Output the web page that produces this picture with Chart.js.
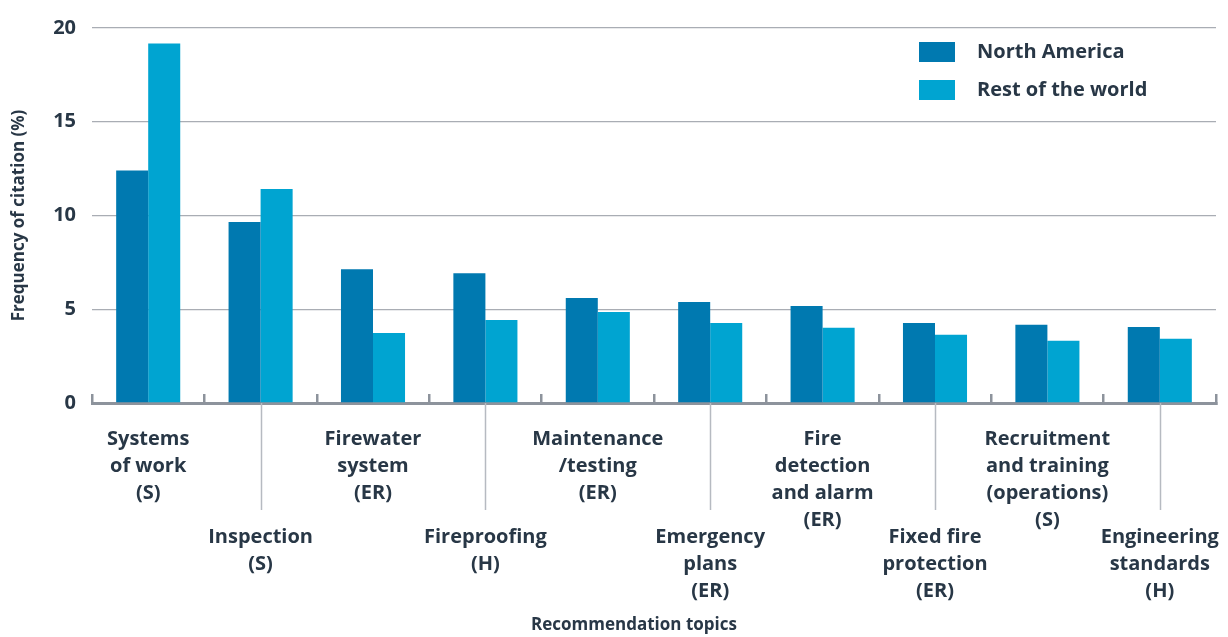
<!DOCTYPE html>
<html>
<head>
<meta charset="utf-8">
<style>
  html, body { margin: 0; padding: 0; background: #ffffff; }
  #wrap { width: 1228px; height: 637px; }
</style>
<script src="https://cdn.jsdelivr.net/npm/chart.js@4/dist/chart.umd.min.js"></script>
</head>
<body>
<div id="wrap"><canvas id="chart" width="1228" height="637"></canvas></div>
<script>
(function () {
  'use strict';

  var categories = [
    ['Systems', 'of work', '(S)'],
    ['Inspection', '(S)'],
    ['Firewater', 'system', '(ER)'],
    ['Fireproofing', '(H)'],
    ['Maintenance', '/testing', '(ER)'],
    ['Emergency', 'plans', '(ER)'],
    ['Fire', 'detection', 'and alarm', '(ER)'],
    ['Fixed fire', 'protection', '(ER)'],
    ['Recruitment', 'and training', '(operations)', '(S)'],
    ['Engineering', 'standards', '(H)']
  ];
  var northAmerica = [12.4, 9.66, 7.13, 6.92, 5.6, 5.39, 5.17, 4.27, 4.17, 4.06];
  var restOfWorld = [19.18, 11.42, 3.74, 4.43, 4.86, 4.27, 4.01, 3.64, 3.32, 3.43];
  var yTicks = [0, 5, 10, 15, 20];

  var TEXT = '#283746';
  var FONT = '"Open Sans", "DejaVu Sans", sans-serif';

  // staggered category labels, connector lines, legend, x title
  var extras = {
    id: 'extras',
    afterDraw: function (chart) {
      var ctx = chart.ctx;
      var x = chart.scales.x;
      var axisY = chart.chartArea.bottom;
      ctx.save();
      ctx.fillStyle = TEXT;
      ctx.textAlign = 'center';
      ctx.textBaseline = 'middle';
      ctx.font = 'bold 20px ' + FONT;
      categories.forEach(function (lines, i) {
        var cx = x.getPixelForValue(i);
        var top = i % 2 === 0 ? 439 : 537;
        if (i % 2 === 1) {
          ctx.strokeStyle = '#b6bac1';
          ctx.lineWidth = 1.5;
          ctx.beginPath();
          ctx.moveTo(Math.round(cx) + 0.5, axisY);
          ctx.lineTo(Math.round(cx) + 0.5, 510);
          ctx.stroke();
        }
        lines.forEach(function (t, j) { ctx.fillText(t, cx, top + j * 27); });
      });

      // legend
      ctx.textAlign = 'left';
      ctx.font = 'bold 20px ' + FONT;
      chart.data.datasets.forEach(function (ds, i) {
        var y = 42 + i * 38;
        ctx.fillStyle = ds.backgroundColor;
        ctx.fillRect(919, y, 36, 20);
        ctx.fillStyle = TEXT;
        ctx.fillText(ds.label, 977, y + 10);
      });

      // x title
      ctx.textAlign = 'center';
      ctx.font = 'bold 17px ' + FONT;
      ctx.fillText('Recommendation topics', 634, 625);
      ctx.restore();
    }
  };

  new Chart(document.getElementById('chart').getContext('2d'), {
    type: 'bar',
    data: {
      labels: categories,
      datasets: [
        { label: 'North America', data: northAmerica, backgroundColor: '#0079b0' },
        { label: 'Rest of the world', data: restOfWorld, backgroundColor: '#00a4d1' }
      ]
    },
    options: {
      responsive: false,
      animation: false,
      layout: { padding: { top: 24, right: 12, bottom: 234, left: 0 } },
      datasets: { bar: { categoryPercentage: 0.57, barPercentage: 1, borderWidth: 0 } },
      plugins: { legend: { display: false }, tooltip: { enabled: false } },
      scales: {
        x: {
          ticks: { display: false },
          grid: { display: true, drawOnChartArea: false, drawTicks: true, tickLength: -9, color: '#8d939c', lineWidth: 2.5 },
          border: { display: true, color: '#8d939c', width: 3 },
          afterFit: function (s) { s.height = 0; }
        },
        y: {
          min: 0,
          max: 20,
          afterBuildTicks: function (s) { s.ticks = yTicks.map(function (v) { return { value: v }; }); },
          ticks: { color: TEXT, padding: 16, font: { family: FONT, size: 20, weight: 'bold' } },
          grid: { color: '#a9adb4', lineWidth: 1.3, drawTicks: false },
          border: { display: false },
          title: {
            display: true,
            text: 'Frequency of citation (%)',
            color: TEXT,
            font: { family: FONT, size: 17, weight: 'bold' },
            padding: { top: 9, bottom: 0 }
          },
          afterFit: function (s) { s.width = 92; }
        }
      }
    },
    plugins: [extras]
  });
})();
</script>
</body>
</html>
